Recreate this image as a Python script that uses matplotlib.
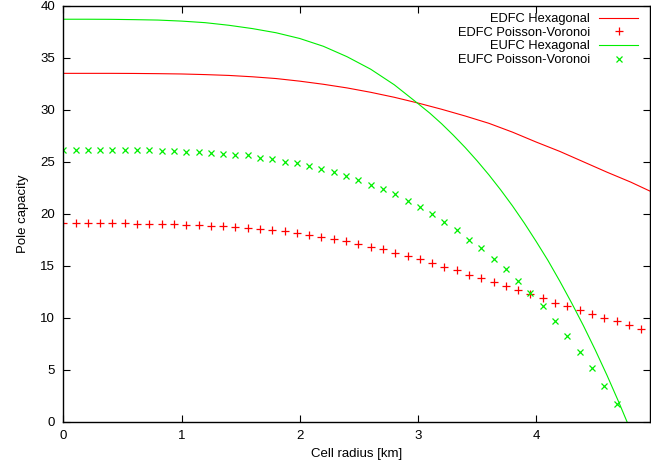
import matplotlib
matplotlib.use("Agg")
import matplotlib.pyplot as plt

plt.rcParams['font.family'] = ['Liberation Sans', 'DejaVu Sans']

# Marker x positions (cell radius, km)
pv_x = [0.000, 0.104, 0.208, 0.312, 0.416, 0.520, 0.624, 0.728, 0.832, 0.936,
        1.040, 1.144, 1.248, 1.352, 1.456, 1.560, 1.664, 1.768, 1.872, 1.976,
        2.080, 2.184, 2.288, 2.392, 2.496, 2.600, 2.704, 2.808, 2.912, 3.016,
        3.120, 3.224, 3.328, 3.432, 3.536, 3.640, 3.744, 3.848, 3.952, 4.056,
        4.160, 4.264, 4.368, 4.472, 4.576, 4.680, 4.784, 4.888]

edfc_pv = [19.13, 19.13, 19.13, 19.10, 19.10, 19.10, 19.07, 19.07, 19.07, 19.04,
           18.97, 18.94, 18.88, 18.80, 18.76, 18.68, 18.56, 18.46, 18.33, 18.17,
           17.98, 17.79, 17.60, 17.40, 17.12, 16.86, 16.60, 16.28, 15.95, 15.65,
           15.32, 14.93, 14.58, 14.16, 13.81, 13.42, 13.04, 12.69, 12.31, 11.88,
           11.47, 11.10, 10.72, 10.37, 10.00, 9.67, 9.29, 8.90]

eufc_pv = [26.18, 26.18, 26.18, 26.12, 26.15, 26.12, 26.12, 26.11, 26.08, 26.04,
           25.98, 25.98, 25.88, 25.79, 25.69, 25.63, 25.41, 25.25, 25.03, 24.84,
           24.62, 24.33, 24.00, 23.68, 23.27, 22.82, 22.37, 21.88, 21.28, 20.65,
           20.00, 19.19, 18.42, 17.53, 16.69, 15.70, 14.71, 13.59, 12.40, 11.10,
           9.71, 8.27, 6.73, 5.22, 3.46, 1.73]

# Hexagonal curves
edfc_hex_x = [0.0, 0.2, 0.4, 0.6, 0.8, 1.0, 1.2, 1.4, 1.6, 1.8, 2.0, 2.2, 2.4,
              2.6, 2.8, 3.0, 3.2, 3.4, 3.6, 3.8, 4.0, 4.2, 4.4, 4.6, 4.8, 4.96]
edfc_hex = [33.50, 33.50, 33.50, 33.49, 33.47, 33.44, 33.38, 33.30, 33.17, 33.00,
            32.75, 32.45, 32.10, 31.68, 31.20, 30.65, 30.05, 29.40, 28.70, 27.85,
            26.90, 26.00, 25.00, 24.00, 23.05, 22.20]

eufc_hex_x = [0.0, 0.2, 0.4, 0.6, 0.8, 1.0, 1.2, 1.4, 1.6, 1.8, 2.0, 2.2, 2.4,
              2.6, 2.8, 3.0, 3.1, 3.2, 3.3, 3.4, 3.5, 3.6, 3.7, 3.8, 3.9, 4.0,
              4.1, 4.2, 4.3, 4.4, 4.5, 4.6, 4.7, 4.8]
eufc_hex = [38.70, 38.70, 38.69, 38.66, 38.62, 38.52, 38.37, 38.12, 37.80, 37.40,
            36.85, 36.10, 35.10, 33.90, 32.40, 30.60, 29.68, 28.66, 27.55, 26.37,
            25.10, 23.75, 22.30, 20.76, 19.11, 17.35, 15.52, 13.53, 11.44, 9.25,
            6.92, 4.47, 1.88, -0.83]

xticks = [0, 1, 2, 3, 4]
yticks = [0, 5, 10, 15, 20, 25, 30, 35, 40]

RED = '#ff0000'
GREEN = '#00ee00'
FS = 9.5

fig = plt.figure(figsize=(6.51, 4.66), dpi=100)
ax = fig.add_axes([63.3 / 651, 44 / 466, (650 - 63.3) / 651, (422.3 - 6) / 466])

ax.plot(edfc_hex_x, edfc_hex, color=RED, lw=0.8, label='EDFC Hexagonal')
ax.plot(pv_x, edfc_pv, ls='none', marker='+', ms=5.5, mew=0.9, color=RED,
        label='EDFC Poisson-Voronoi')
ax.plot(eufc_hex_x, eufc_hex, color=GREEN, lw=0.8, label='EUFC Hexagonal')
ax.plot(pv_x[:len(eufc_pv)], eufc_pv, ls='none', marker='x', ms=4.5, mew=0.9,
        color=GREEN, label='EUFC Poisson-Voronoi')

ax.set_xlim(0, 4.963)
ax.set_ylim(0, 40)
ax.set_xticks(xticks)
ax.set_yticks(yticks)
ax.tick_params(direction='in', length=5, width=0.8, top=True, right=True,
               labelsize=FS, pad=6)
for s in ax.spines.values():
    s.set_linewidth(1.0)

ax.set_xlabel('Cell radius [km]', fontsize=FS, labelpad=4)
ax.set_ylabel('Pole capacity', fontsize=FS, labelpad=8)

leg = ax.legend(loc='upper right', bbox_to_anchor=(638 / 651, 453 / 466),
                bbox_transform=fig.transFigure, frameon=False, markerfirst=False,
                fontsize=9.3, borderpad=0, labelspacing=0.13, handlelength=3.0,
                handletextpad=0.7, borderaxespad=0)

fig.savefig('out.png', dpi=100)
